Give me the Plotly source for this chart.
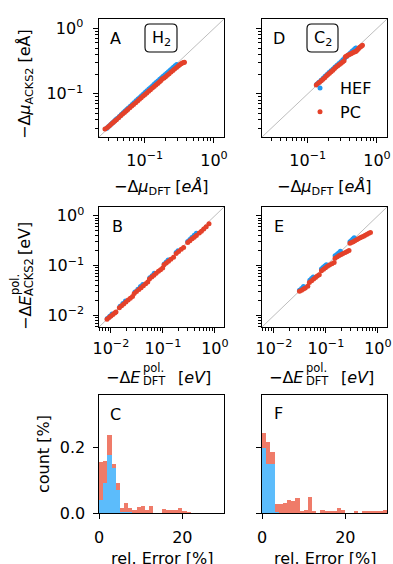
import plotly.graph_objects as go

W, H = 393, 564
FONT = "DejaVu Sans"
BLUE = "#1f98f2"
RED = "#e4412a"
BLUE_H = "#5cbcfb"
RED_H = "#ef7b69"
GRAY = "#b5b5b5"

# ---------------- data ----------------
# Panel A : H2 dipole moments
A_hef_x = [0.028, 0.030, 0.032, 0.034, 0.036, 0.038, 0.040, 0.043, 0.046, 0.049, 0.052, 0.055,
           0.058, 0.062, 0.066, 0.070, 0.075, 0.080, 0.085, 0.090, 0.096, 0.102, 0.108, 0.115,
           0.122, 0.130, 0.138, 0.146, 0.155, 0.165, 0.175, 0.185, 0.196, 0.208, 0.220, 0.233,
           0.246, 0.260, 0.275, 0.290]
A_hef_y = [0.0295, 0.0316, 0.0337, 0.0358, 0.0379, 0.0400, 0.0421, 0.0452, 0.0483, 0.0514, 0.0545,
           0.0576, 0.0607, 0.0648, 0.0689, 0.0730, 0.0781, 0.0832, 0.0883, 0.0934, 0.0994, 0.1054,
           0.1114, 0.1184, 0.1253, 0.1332, 0.1410, 0.1488, 0.1575, 0.1672, 0.1768, 0.1860, 0.1962,
           0.2075, 0.2186, 0.2305, 0.2425, 0.2552, 0.2685, 0.2818]
A_pc_x = [0.0267, 0.029, 0.031, 0.033, 0.035, 0.037, 0.039, 0.042, 0.045, 0.048, 0.051, 0.054,
          0.057, 0.061, 0.065, 0.069, 0.074, 0.079, 0.084, 0.089, 0.095, 0.101, 0.107, 0.114,
          0.121, 0.129, 0.137, 0.145, 0.154, 0.163, 0.172, 0.180, 0.190, 0.200, 0.212, 0.225,
          0.240, 0.255, 0.270, 0.288, 0.305, 0.320, 0.335, 0.350, 0.365, 0.375]
A_pc_y = [0.0290, 0.0305, 0.0325, 0.0345, 0.0364, 0.0384, 0.0403, 0.0432, 0.0461, 0.0490, 0.0519,
          0.0547, 0.0576, 0.0613, 0.0651, 0.0688, 0.0734, 0.0780, 0.0826, 0.0872, 0.0926, 0.0980,
          0.1034, 0.1096, 0.1158, 0.1228, 0.1297, 0.1366, 0.1443, 0.1520, 0.1597, 0.1700, 0.1750,
          0.1830, 0.1925, 0.2030, 0.2150, 0.2270, 0.2390, 0.2530, 0.2660, 0.2780, 0.2880, 0.2960,
          0.3020, 0.3050]

# Panel D : C2 dipole moments
D_hef_x = [0.135, 0.145, 0.156, 0.167, 0.178, 0.190, 0.203, 0.217, 0.232, 0.248, 0.265, 0.283,
           0.302, 0.322, 0.343, 0.365, 0.388, 0.412, 0.437, 0.463, 0.490, 0.500]
D_hef_y = [0.140, 0.151, 0.162, 0.174, 0.186, 0.198, 0.212, 0.226, 0.241, 0.257, 0.274, 0.292,
           0.311, 0.331, 0.352, 0.374, 0.398, 0.422, 0.447, 0.473, 0.498, 0.505]
D_pc_x = [0.133, 0.140, 0.148, 0.157, 0.166, 0.176, 0.186, 0.196, 0.206, 0.218, 0.231, 0.244,
          0.257, 0.272, 0.287, 0.303, 0.319, 0.335, 0.350, 0.365, 0.380, 0.400, 0.420, 0.440,
          0.460, 0.480, 0.500, 0.520, 0.540, 0.560, 0.580, 0.600, 0.617]
D_pc_y = [0.137, 0.144, 0.151, 0.158, 0.167, 0.177, 0.187, 0.197, 0.206, 0.217, 0.230, 0.244,
          0.258, 0.270, 0.281, 0.294, 0.308, 0.322, 0.370, 0.380, 0.390, 0.400, 0.410, 0.422,
          0.432, 0.440, 0.450, 0.470, 0.490, 0.510, 0.525, 0.540, 0.552]

# Panel B : H2 polarization energies
B_hef_x = [0.0085, 0.0095, 0.0105, 0.015, 0.017, 0.019, 0.029, 0.033, 0.037, 0.041,
           0.056, 0.062, 0.068, 0.106, 0.116, 0.126, 0.180, 0.195, 0.300, 0.330, 0.360, 0.400, 0.440]
B_hef_y = [0.0087, 0.0097, 0.0107, 0.0153, 0.0174, 0.0195, 0.0297, 0.0338, 0.0380, 0.0420,
           0.0570, 0.0630, 0.0700, 0.1080, 0.1180, 0.1290, 0.1830, 0.1990, 0.3050, 0.3350, 0.3650,
           0.4050, 0.4450]
B_pc_x = [0.0084, 0.0092, 0.0100, 0.0109, 0.0118, 0.0125,
          0.0145, 0.0160, 0.0176, 0.0194, 0.0214, 0.0236, 0.0260,
          0.028, 0.031, 0.0345, 0.038, 0.042, 0.0465, 0.051,
          0.055, 0.061, 0.067, 0.074, 0.082, 0.090, 0.099,
          0.105, 0.116, 0.128, 0.142, 0.160,
          0.180, 0.200, 0.225, 0.250,
          0.300, 0.330, 0.365, 0.400, 0.440,
          0.500, 0.550, 0.610, 0.680, 0.770]
B_pc_y = [0.0084, 0.0091, 0.0098, 0.0105, 0.0112, 0.0117,
          0.0143, 0.0157, 0.0171, 0.0187, 0.0204, 0.0222, 0.0241,
          0.0275, 0.0302, 0.0332, 0.0362, 0.0395, 0.0432, 0.0468,
          0.054, 0.059, 0.064, 0.070, 0.077, 0.083, 0.090,
          0.104, 0.113, 0.123, 0.134, 0.148,
          0.175, 0.192, 0.212, 0.232,
          0.290, 0.315, 0.345, 0.370, 0.400,
          0.450, 0.490, 0.540, 0.600, 0.690]

# Panel E : C2 polarization energies
E_hef_x = [0.031, 0.034, 0.037, 0.049, 0.053, 0.057, 0.082, 0.088, 0.095, 0.102,
           0.150, 0.162, 0.175, 0.190, 0.290, 0.310, 0.330, 0.350]
E_hef_y = [0.032, 0.035, 0.038, 0.051, 0.055, 0.059, 0.086, 0.092, 0.098, 0.104,
           0.157, 0.168, 0.180, 0.194, 0.300, 0.320, 0.340, 0.360]
E_pc_x = [0.031, 0.034, 0.037, 0.040, 0.0448,
          0.048, 0.053, 0.058, 0.063, 0.068, 0.0745,
          0.082, 0.090, 0.098, 0.107, 0.117, 0.130, 0.144,
          0.150, 0.165, 0.180, 0.197, 0.215, 0.235, 0.256, 0.278,
          0.290, 0.310, 0.335, 0.360, 0.390, 0.420, 0.455, 0.490, 0.530, 0.570, 0.620, 0.670, 0.720]
E_pc_y = [0.0305, 0.0322, 0.0340, 0.0358, 0.0385,
          0.046, 0.050, 0.054, 0.058, 0.062, 0.066,
          0.079, 0.085, 0.091, 0.097, 0.103, 0.109, 0.115,
          0.140, 0.150, 0.160, 0.168, 0.176, 0.184, 0.192, 0.200,
          0.280, 0.290, 0.300, 0.315, 0.330, 0.345, 0.360, 0.375, 0.390, 0.405, 0.425, 0.445, 0.460]

# Panels C and F : stacked relative-error histograms (bin width 1 %)
bin_centers = [0.5, 1.5, 2.5, 3.5, 4.5, 5.5, 6.5, 7.5, 8.5, 9.5, 10.5, 11.5, 12.5, 13.5, 14.5,
               15.5, 16.5, 17.5, 18.5, 19.5, 20.5, 21.5, 22.5, 23.5, 24.5, 25.5, 26.5, 27.5, 28.5, 29.5]
C_hef = [0.040, 0.090, 0.175, 0.135, 0.070, 0.004, 0.002, 0.002, 0, 0, 0, 0, 0, 0, 0,
         0, 0, 0, 0, 0, 0, 0, 0, 0, 0, 0, 0, 0, 0, 0]
C_pc = [0.115, 0.069, 0.061, 0.012, 0.022, 0.010, 0.027, 0.012, 0.009, 0.019, 0.020, 0.008,
        0.022, 0, 0, 0.012, 0.008, 0.010, 0.009, 0.014, 0.007, 0.002, 0, 0, 0, 0, 0, 0, 0, 0]
F_hef = [0.198, 0.147, 0.150, 0.003, 0, 0, 0, 0, 0, 0, 0, 0, 0, 0, 0,
         0, 0, 0, 0, 0, 0, 0, 0, 0, 0, 0, 0, 0, 0, 0]
F_pc = [0.045, 0.069, 0.034, 0.024, 0.027, 0.031, 0.039, 0.036, 0.044, 0.007, 0.009, 0.049,
        0.004, 0, 0.009, 0.004, 0.004, 0.004, 0.014, 0.009, 0, 0, 0.004, 0, 0.004, 0.004,
        0.004, 0.004, 0.004, 0.009]

log_major_vals = [0.01, 0.1, 1]
log_major_text = ["10<sup>−2</sup>", "10<sup>−1</sup>", "10<sup>0</sup>"]
log_minor_vals = [0.002, 0.003, 0.004, 0.005, 0.006, 0.007, 0.008, 0.009,
                  0.02, 0.03, 0.04, 0.05, 0.06, 0.07, 0.08, 0.09,
                  0.2, 0.3, 0.4, 0.5, 0.6, 0.7, 0.8, 0.9, 2, 3]
hist_xticks = [0, 20]
hist_yticks = [0, 0.2]
hist_yticktext = ["0.0", "0.2"]

# ---------------- layout helpers ----------------
def px(x):
    return x / W

def py(y):
    return 1 - y / H

COLS = [(99, 224), (262, 387)]
ROWS = [(19, 137), (207, 327), (395, 513)]
R1 = [-1.66, 0.145]
R2 = [-2.23, 0.175]

fig = go.Figure()

def add_scatter(ax, x, y, color, name, show):
    fig.add_trace(go.Scatter(x=x, y=y, mode="markers", name=name, showlegend=show,
                             marker=dict(color=color, size=5, line=dict(width=0)),
                             xaxis="x" + ax, yaxis="y" + ax))

# axis index: 1=A, 2=D, 3=B, 4=E, 5=C, 6=F
add_scatter("", A_hef_x, A_hef_y, BLUE, "HEF", False)
add_scatter("", A_pc_x, A_pc_y, RED, "PC", False)
add_scatter("2", D_hef_x, D_hef_y, BLUE, "HEF", True)
add_scatter("2", D_pc_x, D_pc_y, RED, "PC", True)
add_scatter("3", B_hef_x, B_hef_y, BLUE, "HEF", False)
add_scatter("3", B_pc_x, B_pc_y, RED, "PC", False)
add_scatter("4", E_hef_x, E_hef_y, BLUE, "HEF", False)
add_scatter("4", E_pc_x, E_pc_y, RED, "PC", False)

for ax, hef, pc in (("5", C_hef, C_pc), ("6", F_hef, F_pc)):
    fig.add_trace(go.Bar(x=bin_centers, y=hef, width=1, marker=dict(color=BLUE_H, line=dict(width=0)),
                         showlegend=False, xaxis="x" + ax, yaxis="y" + ax))
    fig.add_trace(go.Bar(x=bin_centers, y=pc, width=1, marker=dict(color=RED_H, line=dict(width=0)),
                         showlegend=False, xaxis="x" + ax, yaxis="y" + ax))

tickfont = dict(family=FONT, size=16, color="black")

def log_axis(dom, rng, anchor, labels, standoff):
    return dict(type="log", domain=dom, range=rng, anchor=anchor, automargin=False,
                showline=True, mirror=True, linecolor="black", linewidth=1.1,
                showgrid=False, zeroline=False, ticks="outside", ticklen=4.5, tickwidth=1,
                tickcolor="black", tickmode="array", tickvals=log_major_vals,
                ticktext=log_major_text, showticklabels=labels, tickfont=tickfont,
                ticklabelstandoff=standoff,
                minor=dict(tickmode="array", tickvals=log_minor_vals, ticks="outside",
                           ticklen=2.5, tickwidth=0.8, tickcolor="black", showgrid=False))

def lin_axis(dom, rng, anchor, labels, vals, standoff, text=None):
    d = dict(type="linear", domain=dom, range=rng, anchor=anchor, automargin=False,
             showline=True, mirror=True, linecolor="black", linewidth=1.1,
             showgrid=False, zeroline=False, ticks="outside", ticklen=4.5, tickwidth=1,
             tickcolor="black", tickmode="array", tickvals=vals, showticklabels=labels,
             tickfont=tickfont, ticklabelstandoff=standoff)
    if text is not None:
        d["ticktext"] = text
    return d

def xdom(c):
    return [px(COLS[c][0]), px(COLS[c][1])]

def ydom(r):
    return [py(ROWS[r][1]), py(ROWS[r][0])]

layout_axes = {
    "xaxis": log_axis(xdom(0), R1, "y", True, 4),
    "yaxis": log_axis(ydom(0), R1, "x", True, 7),
    "xaxis2": log_axis(xdom(1), R1, "y2", True, 4),
    "yaxis2": log_axis(ydom(0), R1, "x2", False, 7),
    "xaxis3": log_axis(xdom(0), R2, "y3", True, 2),
    "yaxis3": log_axis(ydom(1), R2, "x3", True, 6),
    "xaxis4": log_axis(xdom(1), R2, "y4", True, 2),
    "yaxis4": log_axis(ydom(1), R2, "x4", False, 6),
    "xaxis5": lin_axis(xdom(0), [0, 30], "y5", True, hist_xticks, 5),
    "yaxis5": lin_axis(ydom(2), [0, 0.3576], "x5", True, hist_yticks, 5, hist_yticktext),
    "xaxis6": lin_axis(xdom(1), [0, 30], "y6", True, hist_xticks, 5),
    "yaxis6": lin_axis(ydom(2), [0, 0.3576], "x6", False, hist_yticks, 5, hist_yticktext),
}

annotations = []

def ann(text, x, y, size=16, angle=0, xanchor="center", yanchor="middle"):
    annotations.append(dict(text=text, x=px(x), y=py(y), xref="paper", yref="paper",
                            showarrow=False, textangle=angle, xanchor=xanchor, yanchor=yanchor,
                            borderpad=0, font=dict(family=FONT, size=size, color="black")))

# panel letters
for letter, (lx, ly) in zip("ABCDEF", [(116, 38), (117, 226), (116, 414),
                                        (279, 38), (279, 226), (278, 413)]):
    ann(letter, lx, ly)

# molecule labels
ann("H<sub>2</sub>", 161, 38)
ann("C<sub>2</sub>", 322.5, 38)

# x titles row 1
for c in range(2):
    cx = (COLS[c][0] + COLS[c][1]) / 2
    ann("−Δ<i>μ</i><sub>DFT</sub> [<i>eÅ</i>]", cx, 188)
# x titles row 2 (stacked super/subscript)
for c in range(2):
    off = COLS[c][0] - COLS[0][0]
    ann("−Δ<i>E</i>", 142 + off, 377, xanchor="right")
    ann("pol.", 142 + off, 367.5, size=11.5, xanchor="left")
    ann("DFT", 142 + off, 381, size=11.5, xanchor="left")
    ann("[<i>eV</i>]", 177 + off, 377, xanchor="left")
# x titles row 3
for c in range(2):
    cx = (COLS[c][0] + COLS[c][1]) / 2
    ann("rel. Error [%]", cx, 558)

# y titles
ann("−Δ<i>μ</i><sub>ACKS2</sub> [eÅ]", 25, 84, angle=-90)
ann("−Δ<i>E</i>", 25, 313, angle=-90)
ann("pol.", 15, 285, size=11.5, angle=-90)
ann("ACKS2", 29, 277, size=11.5, angle=-90)
ann("[eV]", 25, 239, angle=-90)
ann("count [%]", 43, 454, angle=-90)

# diagonal reference lines and molecule boxes
shapes = []
for ax in ("", "2", "3", "4"):
    shapes.append(dict(type="line", xref="x" + ax + " domain", yref="y" + ax + " domain",
                       x0=0, y0=0, x1=1, y1=1, line=dict(color=GRAY, width=0.9), layer="below"))

def rounded_box(xr, yr, x0p, x1p, y0p, y1p, col):
    cw = COLS[col][1] - COLS[col][0]
    rt, rb = ROWS[0]
    rh = rb - rt
    x0 = (x0p - COLS[col][0]) / cw
    x1 = (x1p - COLS[col][0]) / cw
    y0 = (rb - y1p) / rh
    y1 = (rb - y0p) / rh
    rx = 4.5 / cw
    ry = 4.5 / rh
    path = (f"M {x0+rx},{y0} L {x1-rx},{y0} Q {x1},{y0} {x1},{y0+ry} "
            f"L {x1},{y1-ry} Q {x1},{y1} {x1-rx},{y1} L {x0+rx},{y1} "
            f"Q {x0},{y1} {x0},{y1-ry} L {x0},{y0+ry} Q {x0},{y0} {x0+rx},{y0} Z")
    shapes.append(dict(type="path", path=path, xref=xr, yref=yr,
                       line=dict(color="black", width=1.1), fillcolor="rgba(0,0,0,0)"))

rounded_box("x domain", "y domain", 145, 177, 24, 52, 0)
rounded_box("x2 domain", "y2 domain", 307, 338, 24, 52, 1)

fig.update_layout(
    width=W, height=H, autosize=False,
    margin=dict(l=0, r=0, t=0, b=0, autoexpand=False),
    paper_bgcolor="white", plot_bgcolor="white",
    font=dict(family=FONT, size=16, color="black"),
    barmode="stack", bargap=0, hovermode=False,
    annotations=annotations, shapes=shapes,
    legend=dict(x=px(300), y=py(71), xanchor="left", yanchor="top", traceorder="normal",
                bgcolor="rgba(0,0,0,0)", font=dict(family=FONT, size=16, color="black"),
                itemwidth=30, tracegroupgap=0),
    **layout_axes,
)

fig.write_html("out.html", config={"displayModeBar": False},
               post_script="document.body.style.margin='0';document.body.style.padding='0';")
